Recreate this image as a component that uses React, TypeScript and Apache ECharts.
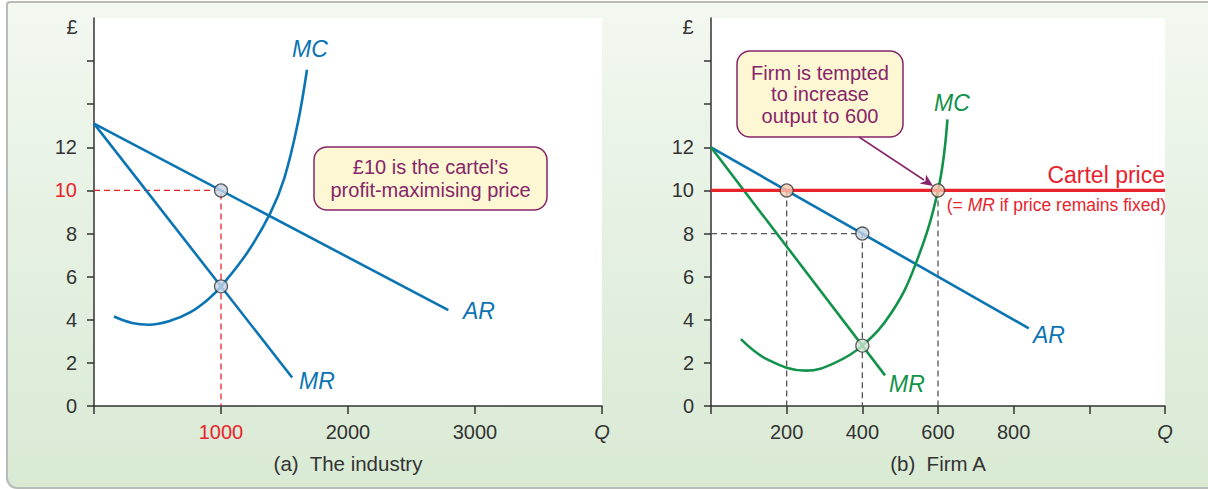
import React, { useEffect, useRef } from "react";
import * as echarts from "echarts";

const FONT = '"Liberation Sans", Arial, Helvetica, sans-serif';
const BLUE = "#0b74b3";
const GREEN = "#12924a";
const RED = "#e8232c";
const PURPLE = "#86256a";
const DARK = "#333";

// Panel (a): the industry
const arIndustry: number[][] = [[0, 13.1], [2790, 4.45]];
const mrIndustry: number[][] = [[0, 13.1], [1560, 1.32]];
const mcIndustry: number[][] = [
  [157, 4.15], [300, 3.85], [432, 3.77], [600, 3.95], [760, 4.35], [900, 4.95],
  [1000, 5.55], [1205, 7.1], [1389, 8.96], [1500, 10.6], [1604, 13.1], [1677, 15.6],
];
const cartelGuideIndustry: number[][] = [[0, 10], [1000, 10], [1000, 0]];
const pointsIndustry: number[][] = [[1000, 10], [1000, 5.55]];
const xTicksIndustry = [0, 1000, 2000, 3000, 4000];
const xLabelsIndustry = [1000, 2000, 3000, 4000];

// Panel (b): firm A
const cartelPrice: number[][] = [[0, 10], [1200, 10]];
const arFirm: number[][] = [[0, 12], [840, 3.6]];
const mrFirm: number[][] = [[0, 12], [460, 1.42]];
const mcFirm: number[][] = [
  [79, 3.1], [150, 2.15], [251, 1.64], [326, 1.99], [400, 2.8], [476, 4.3],
  [539, 6.5], [600, 10], [625, 13.3],
];
const guideQ200: number[][] = [[200, 10], [200, 0]];
const guideQ400: number[][] = [[0, 8], [400, 8], [400, 0]];
const guideQ600: number[][] = [[600, 10], [600, 0]];
const peachPoints: number[][] = [[200, 10], [600, 10]];
const bluePoint: number[][] = [[400, 8]];
const greenPoint: number[][] = [[400, 2.8]];
const xTicksFirm = [0, 200, 400, 600, 800, 1000, 1200];
const xLabelsFirm = [200, 400, 600, 800, 1200];

const yTicks = [0, 2, 4, 6, 8, 10, 12, 14, 16];
const yLabels = [0, 2, 4, 6, 8, 10, 12];

function yAxis(grid: number, redTen: boolean) {
  return {
    type: "value",
    gridIndex: grid,
    min: 0,
    max: 18,
    interval: 2,
    splitLine: { show: false },
    axisLine: { show: true, lineStyle: { color: DARK, width: 1.5 } },
    axisTick: { show: true, length: 7, customValues: yTicks, lineStyle: { color: DARK, width: 1.5 } },
    axisLabel: {
      customValues: yLabels,
      margin: 17,
      fontSize: 20,
      fontFamily: FONT,
      color: (v: any) => (redTen && Number(v) === 10 ? RED : DARK),
    },
  };
}

function xAxis(grid: number, max: number, interval: number, ticks: number[], labels: number[], redVal: number | null) {
  return {
    type: "value",
    gridIndex: grid,
    min: 0,
    max,
    interval,
    splitLine: { show: false },
    axisLine: { show: true, onZero: false, lineStyle: { color: DARK, width: 1.5 } },
    axisTick: { show: true, length: 8, customValues: ticks, lineStyle: { color: DARK, width: 1.5 } },
    axisLabel: {
      customValues: labels,
      margin: 16,
      fontSize: 20,
      fontFamily: FONT,
      color: (v: any) => (redVal !== null && Number(v) === redVal ? RED : DARK),
      formatter: (v: number) => (v === max ? "{q|Q}" : String(v)),
      rich: { q: { fontStyle: "italic", fontSize: 20, fontFamily: FONT, color: DARK } },
    },
  };
}

function line(xi: number, data: number[][], color: string, width: number, extra: any = {}) {
  return {
    type: "line",
    xAxisIndex: xi,
    yAxisIndex: xi,
    data,
    symbol: "none",
    lineStyle: { color, width },
    silent: true,
    z: 3,
    ...extra,
  };
}

function dots(xi: number, data: number[][], fill: string) {
  return {
    type: "scatter",
    xAxisIndex: xi,
    yAxisIndex: xi,
    data,
    symbol: "circle",
    symbolSize: 13,
    itemStyle: { color: fill, borderColor: DARK, borderWidth: 1.3 },
    z: 10,
  };
}

function label(text: string, x: number, y: number, color: string, size = 23) {
  return {
    type: "text",
    x,
    y,
    z: 100,
    style: {
      text,
      fill: color,
      font: `italic ${size}px ${FONT}`,
      align: "center",
      verticalAlign: "middle",
    },
  };
}

export default function App() {
  const ref = useRef<HTMLDivElement>(null);

  useEffect(() => {
    document.body.style.margin = "0";
    if (!ref.current) return;
    const chart = echarts.init(ref.current, null, { renderer: "svg" });
    const dash = { type: [6, 4] };
    chart.setOption({
      animation: false,
      backgroundColor: "transparent",
      grid: [
        { left: 94, top: 18, width: 508, height: 388, show: true, backgroundColor: "#ffffff", borderWidth: 0 },
        { left: 711, top: 18, width: 454, height: 388, show: true, backgroundColor: "#ffffff", borderWidth: 0 },
      ],
      xAxis: [
        xAxis(0, 4000, 1000, xTicksIndustry, xLabelsIndustry, 1000),
        xAxis(1, 1200, 200, xTicksFirm, xLabelsFirm, null),
      ],
      yAxis: [yAxis(0, true), yAxis(1, false)],
      series: [
        line(0, cartelGuideIndustry, RED, 1.3, { lineStyle: { color: RED, width: 1.3, ...dash }, z: 2 }),
        line(0, arIndustry, BLUE, 2.6),
        line(0, mrIndustry, BLUE, 2.6),
        line(0, mcIndustry, BLUE, 2.6, { smooth: 0.4 }),
        dots(0, pointsIndustry, "#c5d3e6"),

        line(1, guideQ200, "#555", 1.3, { lineStyle: { color: "#555", width: 1.3, ...dash }, z: 2 }),
        line(1, guideQ400, "#555", 1.3, { lineStyle: { color: "#555", width: 1.3, ...dash }, z: 2 }),
        line(1, guideQ600, "#555", 1.3, { lineStyle: { color: "#555", width: 1.3, ...dash }, z: 2 }),
        line(1, cartelPrice, RED, 3.2, { z: 4 }),
        line(1, arFirm, BLUE, 2.6),
        line(1, mrFirm, GREEN, 2.6),
        line(1, mcFirm, GREEN, 2.6, { smooth: 0.4 }),
        dots(1, peachPoints, "#f8c7b2"),
        dots(1, bluePoint, "#c5d3e6"),
        dots(1, greenPoint, "#cfe3d2"),
      ],
      graphic: [
        // currency symbols
        { type: "text", x: 72, y: 27, z: 100, style: { text: "£", fill: DARK, font: `20px ${FONT}`, align: "center", verticalAlign: "middle" } },
        { type: "text", x: 688, y: 27, z: 100, style: { text: "£", fill: DARK, font: `20px ${FONT}`, align: "center", verticalAlign: "middle" } },
        // curve labels
        label("MC", 310, 49, BLUE),
        label("AR", 479, 311, BLUE),
        label("MR", 317, 381, BLUE),
        label("MC", 952, 103, GREEN),
        label("AR", 1049, 335, BLUE),
        label("MR", 907, 384, GREEN),
        // cartel price texts
        { type: "text", x: 1165, y: 175, z: 100, style: { text: "Cartel price", fill: RED, font: `23px ${FONT}`, align: "right", verticalAlign: "middle" } },
        {
          type: "text", x: 1166, y: 205, z: 100,
          style: {
            text: "(= {i|MR} if price remains fixed)", fill: RED, font: `17.5px ${FONT}`, align: "right", verticalAlign: "middle",
            rich: { i: { fontStyle: "italic", fill: RED, font: `italic 17.5px ${FONT}` } },
          },
        },
        // box (a)
        { type: "rect", z: 90, shape: { x: 314, y: 147, width: 233, height: 63, r: 13 }, style: { fill: "#fdf8d3", stroke: PURPLE, lineWidth: 1.5 } },
        { type: "text", x: 430.5, y: 178.5, z: 100, style: { text: "£10 is the cartel’s\nprofit-maximising price", fill: PURPLE, font: `20px ${FONT}`, lineHeight: 23, align: "center", verticalAlign: "middle" } },
        // box (b)
        { type: "rect", z: 90, shape: { x: 737, y: 51, width: 166, height: 86, r: 13 }, style: { fill: "#fdf8d3", stroke: PURPLE, lineWidth: 1.5 } },
        { type: "text", x: 820, y: 94, z: 100, style: { text: "Firm is tempted\nto increase\noutput to 600", fill: PURPLE, font: `20px ${FONT}`, lineHeight: 21.5, align: "center", verticalAlign: "middle" } },
        // arrow
        { type: "line", z: 95, shape: { x1: 859, y1: 137, x2: 924, y2: 180 }, style: { stroke: PURPLE, lineWidth: 1.5 } },
        { type: "polygon", z: 95, shape: { points: [[933, 186], [919.5, 183.5], [925.5, 181], [926, 174.5]] }, style: { fill: PURPLE } },
        // captions
        { type: "text", x: 348, y: 463, z: 100, style: { text: "(a)  The industry", fill: DARK, font: `20.5px ${FONT}`, align: "center", verticalAlign: "middle" } },
        { type: "text", x: 938, y: 463, z: 100, style: { text: "(b)  Firm A", fill: DARK, font: `20.5px ${FONT}`, align: "center", verticalAlign: "middle" } },
      ],
    });
    return () => chart.dispose();
  }, []);

  return (
    <div style={{ position: "relative", width: 1208, height: 489, overflow: "hidden", background: "#ffffff" }}>
      <div
        style={{
          position: "absolute",
          left: 6,
          top: 1,
          width: 1230,
          height: 484,
          border: "2.5px solid #b8bbb8",
          borderRadius: "4px 0 0 11px",
          background: "linear-gradient(180deg, #f3f8f1 0%, #e6f1e3 45%, #d9ead4 100%)",
        }}
      />
      <div ref={ref} style={{ position: "absolute", left: 0, top: 0, width: 1208, height: 489 }} />
    </div>
  );
}
